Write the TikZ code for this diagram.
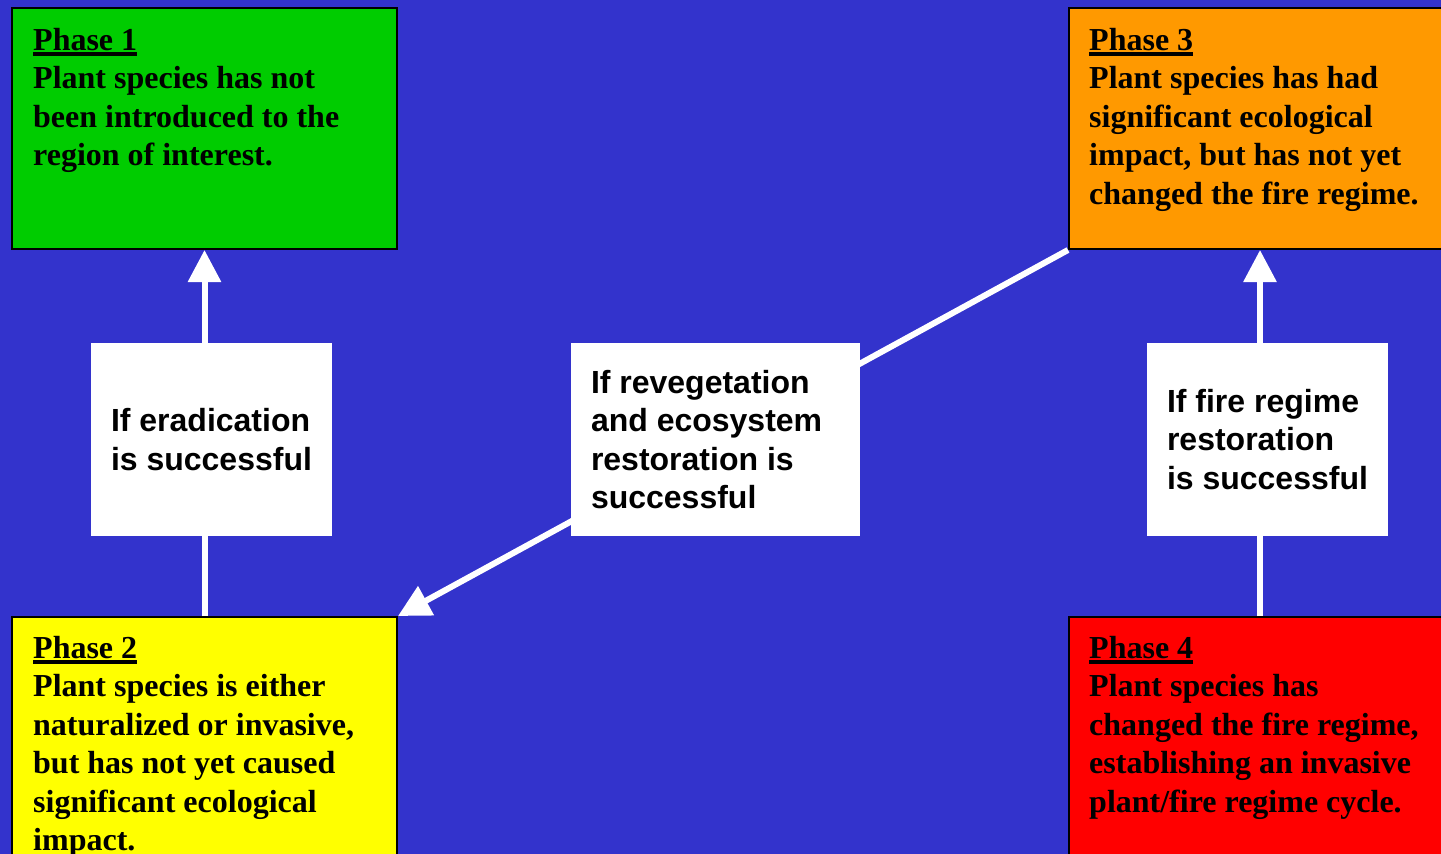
\documentclass[tikz,border=0pt]{standalone}
\usepackage{fontspec}
\setmainfont{Liberation Serif}
\newfontfamily\labfont{Liberation Sans}
\usetikzlibrary{arrows.meta}
\definecolor{bgblue}{HTML}{3333CC}
\definecolor{ph1}{HTML}{00CC00}
\definecolor{ph2}{HTML}{FFFF00}
\definecolor{ph3}{HTML}{FF9900}
\definecolor{ph4}{HTML}{FF0000}
\newcommand{\phul}[1]{\setbox0\hbox{#1}\rlap{\rule[-5.5pt]{\wd0}{3.2pt}}\box0}
\newcommand{\natspace}{\spaceskip=0pt\xspaceskip=0pt\relax}
\tikzset{
  phasebox/.style={draw=black, line width=2pt, anchor=north west, minimum width=385pt, minimum height=241pt, inner sep=0pt},
  phtext/.style={anchor=base west, inner sep=0pt, text width=380pt, align=left, font=\fontsize{32}{38.5}\selectfont\bfseries, execute at begin node=\natspace},
  labbox/.style={fill=white, inner xsep=20pt, inner ysep=0pt, minimum height=193pt, align=left, font=\labfont\fontsize{32}{38.5}\selectfont\bfseries, execute at begin node=\natspace},
  conn/.style={draw=white, line width=6pt, -{Triangle[width=32pt,length=32pt]}},
}
\begin{document}
\begin{tikzpicture}[x=1pt,y=-1pt]
\useasboundingbox (0,0) rectangle (1441,854);
\clip (0,0) rectangle (1441,854);
\fill[bgblue] (0,0) rectangle (1441,854);
% phase boxes
\node[phasebox, fill=ph1] (p1) at (11,7) {};
\node[phasebox, fill=ph3, minimum width=382pt] (p3) at (1068,7) {};
\node[phasebox, fill=ph2] (p2) at (11,616) {};
\node[phasebox, fill=ph4, minimum width=382pt] (p4) at (1068,616) {};
% connectors
\draw[conn] (p2.north) -- (p1.south);
\draw[conn] (p4.north) -- (p3.south);
\draw[conn] (p3.south west) -- (p2.north east);
% label boxes
\node[labbox, minimum width=241pt] (l1) at (211.5,439.5) {If eradication\\is successful};
\node[labbox, text width=249pt, minimum width=289pt] (l2) at (715.5,439.5) {If revegetation\\and ecosystem\\restoration is\\successful};
\node[labbox, minimum width=241pt] (l3) at (1267.5,439.5) {If fire regime\\restoration\\is successful};
% phase texts
\node[phtext] (t1) at (33,50) {\phul{Phase 1}\\Plant species has not\\been introduced to the\\region of interest.};
\node[phtext] (t3) at (1089,50) {\phul{Phase 3}\\Plant species has had\\significant ecological\\impact, but has not yet\\changed the fire regime.};
\node[phtext] (t2) at (33,658) {\phul{Phase 2}\\Plant species is either\\naturalized or invasive,\\but has not yet caused\\significant ecological\\impact.};
\node[phtext] (t4) at (1089,658) {\phul{Phase 4}\\Plant species has\\changed the fire regime,\\establishing an invasive\\plant/fire regime cycle.};
\end{tikzpicture}
\end{document}
